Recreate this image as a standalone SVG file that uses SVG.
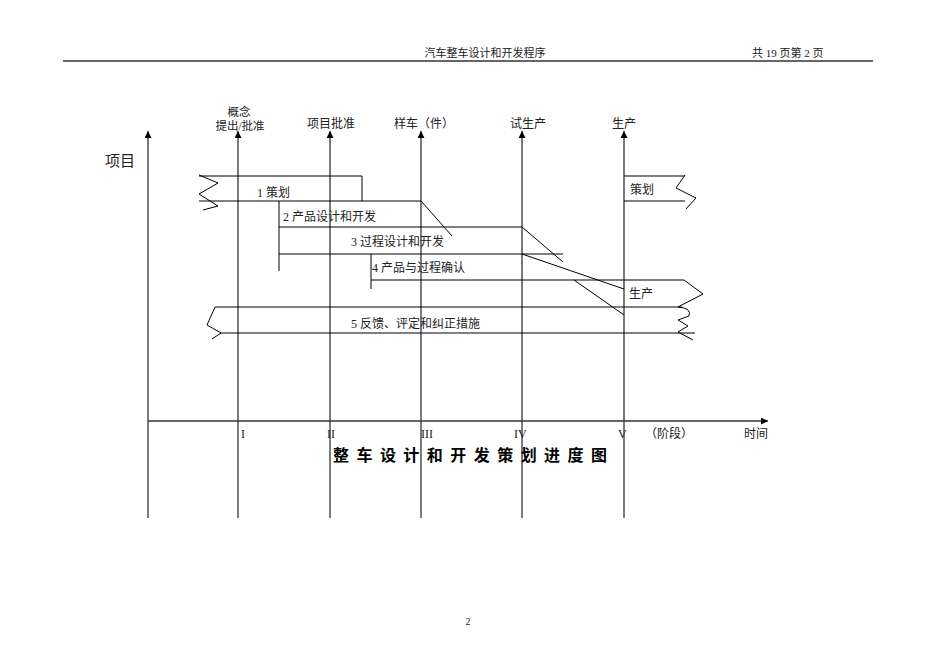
<svg xmlns="http://www.w3.org/2000/svg" width="950" height="672" viewBox="0 0 950 672">
<defs>
<style>
.t{font-family:"Liberation Serif","Noto Sans CJK SC",serif;fill:#222;font-size:12px}
.ln{stroke:#000;stroke-width:1;fill:none}
.ax{stroke:#333;stroke-width:1.3;fill:none}
</style>
<marker id="ar" viewBox="0 0 10 10" refX="10" refY="5" markerWidth="7" markerHeight="7" markerUnits="userSpaceOnUse" orient="auto">
<path d="M0,0L10,5L0,10z" fill="#000"/>
</marker>
</defs>
<rect width="950" height="672" fill="#fff"/>
<g id="header">
<text class="t" x="485" y="57" text-anchor="middle" style="font-size:11px">汽车整车设计和开发程序</text>
<text class="t" x="752" y="57" style="font-size:11px">共 19 页第 2 页</text>
<line x1="63" y1="61" x2="873" y2="61" stroke="#333" stroke-width="1.6"/>
</g>
<g id="axes">
<line class="ax" x1="148" y1="518" x2="148" y2="131" marker-end="url(#ar)"/>
<line class="ax" x1="148" y1="421" x2="768" y2="421" marker-end="url(#ar)"/>
<line class="ax" x1="238" y1="518" x2="238" y2="131" marker-end="url(#ar)"/>
<line class="ax" x1="330" y1="518" x2="330" y2="131" marker-end="url(#ar)"/>
<line class="ax" x1="421" y1="518" x2="421" y2="131" marker-end="url(#ar)"/>
<line class="ax" x1="522" y1="518" x2="522" y2="131" marker-end="url(#ar)"/>
<line class="ax" x1="624" y1="518" x2="624" y2="131" marker-end="url(#ar)"/>
</g>
<g id="milestone-labels">
<text class="t" x="239" y="116" text-anchor="middle" style="font-size:11.5px">概念</text>
<text class="t" x="240" y="130" text-anchor="middle" style="font-size:11.5px">提出/批准</text>
<text class="t" x="331" y="128" text-anchor="middle">项目批准</text>
<text class="t" x="424" y="128" text-anchor="middle">样车（件）</text>
<text class="t" x="528" y="128" text-anchor="middle">试生产</text>
<text class="t" x="624" y="128" text-anchor="middle">生产</text>
<text class="t" x="120" y="166" text-anchor="middle" style="font-size:15px">项目</text>
</g>
<g id="band1">
<line class="ln" x1="199" y1="176" x2="362" y2="176"/>
<line class="ln" x1="362" y1="176" x2="362" y2="201"/>
<line class="ln" x1="199" y1="201" x2="421" y2="201"/>
<polyline class="ln" points="199,175 218,183 199,194 218,206 203,210"/>
<text class="t" x="257" y="197">1 策划</text>
</g>
<g id="band2">
<line class="ln" x1="279" y1="201" x2="279" y2="271"/>
<line class="ln" x1="279" y1="227" x2="522" y2="227"/>
<text class="t" x="283" y="221">2 产品设计和开发</text>
</g>
<g id="band3">
<line class="ln" x1="279" y1="254" x2="563" y2="254"/>
<text class="t" x="351" y="246">3 过程设计和开发</text>
</g>
<g id="band4">
<line class="ln" x1="371" y1="254" x2="371" y2="289"/>
<line class="ln" x1="371" y1="280" x2="684" y2="280"/>
<polyline class="ln" points="684,280 703,294 678,307"/>
<text class="t" x="372" y="272">4 产品与过程确认</text>
</g>
<g id="band5">
<line class="ln" x1="215" y1="307" x2="682" y2="307"/>
<line class="ln" x1="220" y1="333" x2="695" y2="333"/>
<polyline class="ln" points="215,307 207,325 221,333 212,339"/>
<path class="ln" d="M678,307 Q692,308 689,316 L678,320 L688,326 L678,332 L693,340"/>
<text class="t" x="351" y="328">5 反馈、评定和纠正措施</text>
</g>
<g id="production">
<line class="ln" x1="624" y1="176" x2="685" y2="176"/>
<line class="ln" x1="624" y1="201" x2="685" y2="201"/>
<polyline class="ln" points="685,175 676,188 696,198 686,209"/>
<text class="t" x="630" y="194">策划</text>
<text class="t" x="629" y="298">生产</text>
</g>
<g id="connectors">
<line class="ln" x1="421" y1="201" x2="452" y2="236"/>
<line class="ln" x1="522" y1="227" x2="563" y2="262"/>
<line class="ln" x1="522" y1="254" x2="624" y2="289"/>
<line class="ln" x1="574" y1="280" x2="624" y2="315"/>
</g>
<g id="stage-labels">
<text class="t" x="241" y="438">I</text>
<text class="t" x="327" y="438">II</text>
<text class="t" x="421" y="438">III</text>
<text class="t" x="514" y="438">IV</text>
<text class="t" x="618" y="438">V</text>
<text class="t" x="645" y="438">（阶段）</text>
<text class="t" x="744" y="438">时间</text>
</g>
<g id="title">
<text x="333" y="461" font-family="'Noto Sans CJK SC',sans-serif" font-weight="bold" font-size="16" fill="#000" textLength="274" lengthAdjust="spacing">整 车 设 计 和 开 发 策 划 进 度 图</text>
</g>
<text class="t" x="468" y="625" text-anchor="middle" style="font-size:10px">2</text>
</svg>
